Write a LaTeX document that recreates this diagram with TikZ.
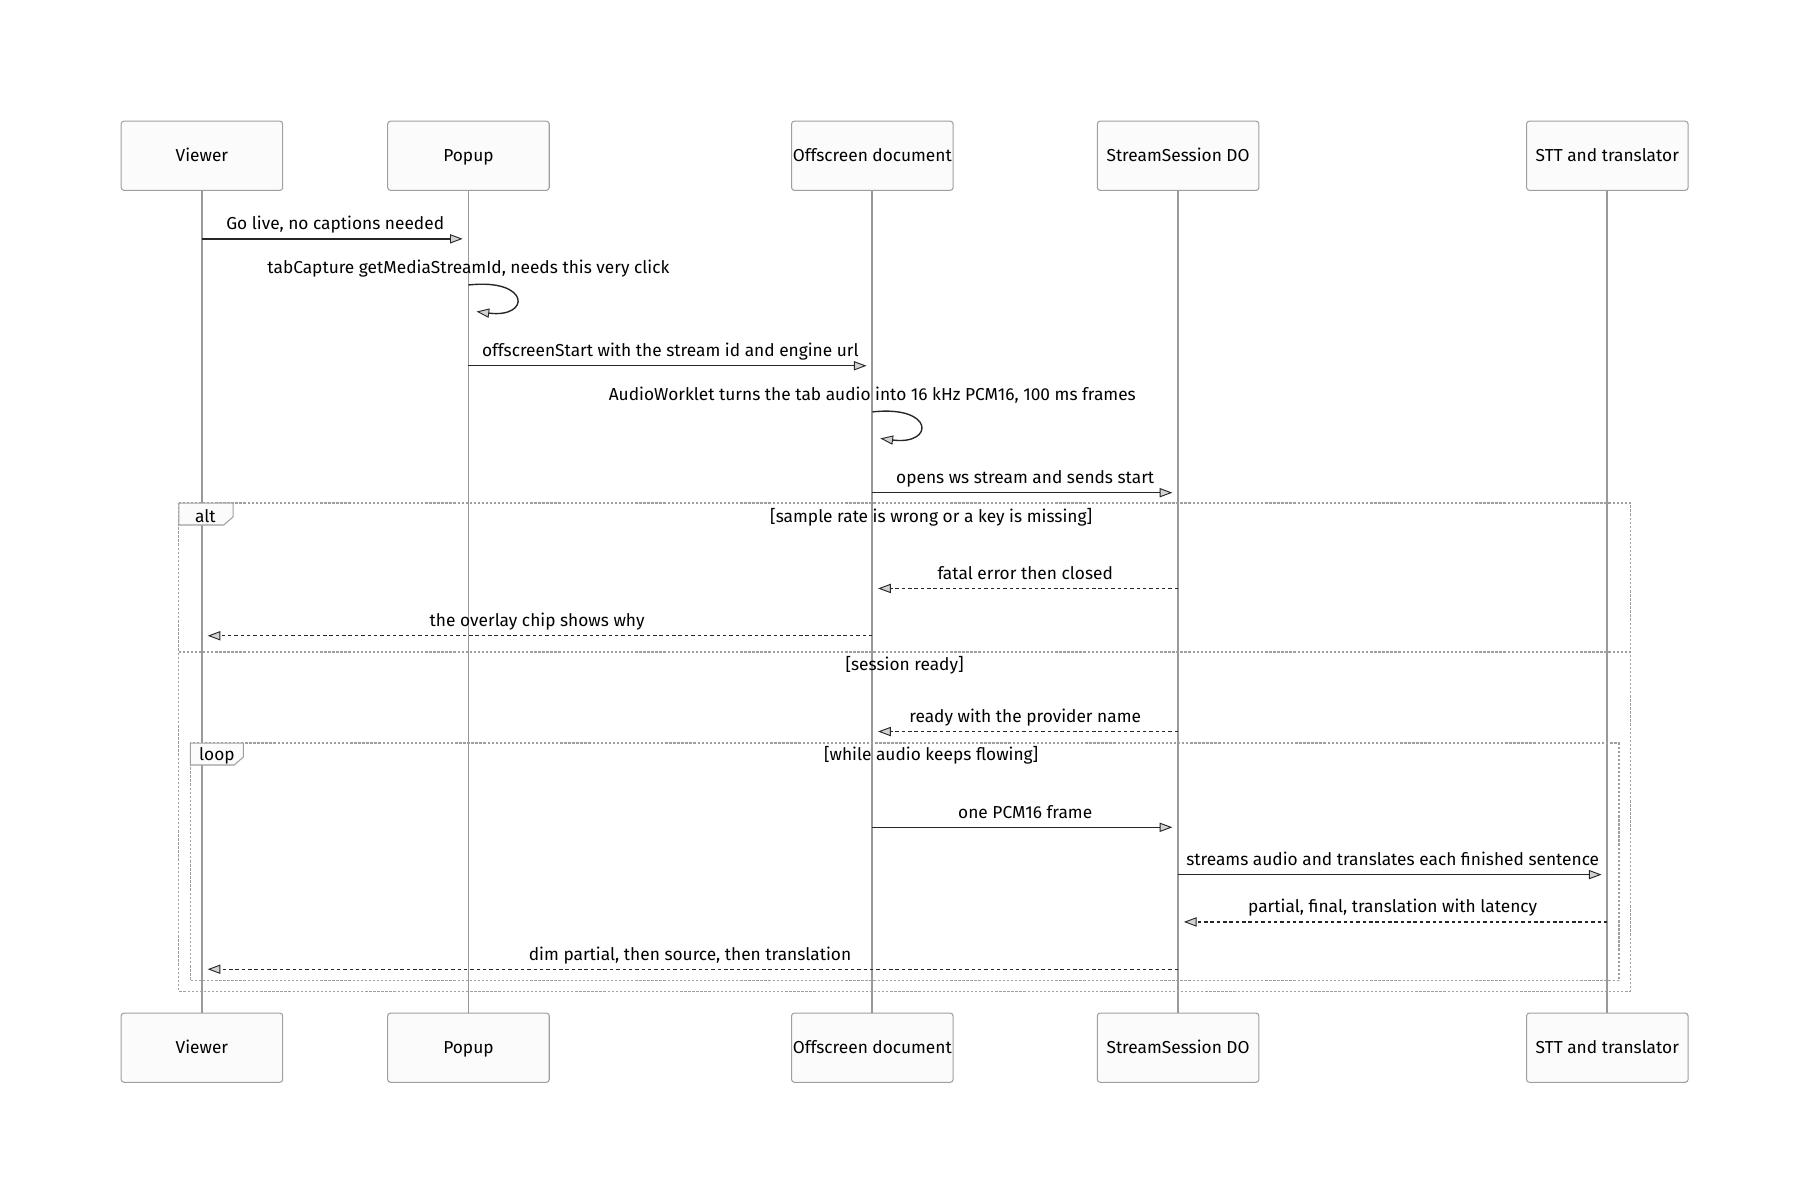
\documentclass[tikz,border=0pt]{standalone}
\usepackage{fontspec}
\setmainfont{Fira Sans}
\usetikzlibrary{arrows.meta}

\tikzset{
  actor/.style={draw=gray!75, fill=gray!3, rounded corners=2.5pt, line width=0.9pt,
    minimum width=140pt, minimum height=60pt, inner sep=0pt, text height=10.5pt, text depth=0pt,
    font=\fontsize{15}{17}\selectfont},
  life/.style={draw=gray!80, line width=1.6pt},
  msg/.style={draw=black!85, line width=1.2pt, shorten >=5pt,
    -{Triangle[length=11pt, width=8pt, fill=gray!35, line width=0.8pt]}},
  reply/.style={msg, dash pattern=on 3pt off 2.5pt},
  txt/.style={font=\fontsize{15}{17}\selectfont, inner sep=0pt, anchor=base},
  box/.style={draw=gray!75, line width=1.1pt, dash pattern=on 2pt off 1.5pt},
  tag/.style={draw=gray!75, fill=gray!3, line width=0.9pt}
}

\begin{document}
\begin{tikzpicture}[x=1pt, y=-1pt]
\useasboundingbox (0,0) rectangle (1560,1040);
%参与者
\node[actor] (viewerTop) at (175,135) {Viewer};
\node[actor] (popupTop) at (406,135) {Popup};
\node[actor] (offTop) at (756,135) {Offscreen document};
\node[actor] (sessTop) at (1021,135) {StreamSession DO};
\node[actor] (sttTop) at (1393,135) {STT and translator};
\node[actor] (viewerBot) at (175,908) {Viewer};
\node[actor] (popupBot) at (406,908) {Popup};
\node[actor] (offBot) at (756,908) {Offscreen document};
\node[actor] (sessBot) at (1021,908) {StreamSession DO};
\node[actor] (sttBot) at (1393,908) {STT and translator};
%生命线
\foreach \a in {viewer,popup,off,sess,stt}
  \draw[life] (\a Top.south) -- (\a Bot.north);
%行
\foreach \n/\y in {goLive/207,capture/247,start/317,worklet/357,openWs/427,
  fatal/510,overlay/551,ready/634,frame/717,stream/758,partial/799,dim/840}
  \coordinate (\n) at (0,\y);
%框
\draw[box] (155,436) rectangle (1413,859);
\draw[box] (155,565) -- (1413,565);
\draw[tag] (155,436) -- (202,436) -- (202,448) -- (194,455) -- (155,455) -- cycle;
\draw (178,447) node[font=\fontsize{15}{17}\selectfont] {alt};
\draw (807,448) node[font=\fontsize{15}{17}\selectfont] {[sample rate is wrong or a key is missing]};
\draw (784,577) node[font=\fontsize{15}{17}\selectfont] {[session ready]};
\draw[box] (165,644) rectangle (1403,850);
\draw[tag] (165,644) -- (211,644) -- (211,656) -- (203,663) -- (165,663) -- cycle;
\draw (188,655) node[font=\fontsize{15}{17}\selectfont] {loop};
\draw (807,655) node[font=\fontsize{15}{17}\selectfont] {[while audio keeps flowing]};
%消息
\draw[msg] (viewerTop |- goLive) -- node[txt, yshift=8pt] {Go live, no captions needed} (popupTop |- goLive);
\draw[msg, shorten >=0pt] (popupTop |- capture) .. controls (460,241) and (460,276) .. (413,270);
\draw (popupTop |- capture) node[txt, yshift=10pt] {tabCapture getMediaStreamId, needs this very click};
\draw[msg] (popupTop |- start) -- node[txt, yshift=8pt] {offscreenStart with the stream id and engine url} (offTop |- start);
\draw[msg, shorten >=0pt] (offTop |- worklet) .. controls (810,351) and (810,386) .. (763,380);
\draw (offTop |- worklet) node[txt, yshift=10pt] {AudioWorklet turns the tab audio into 16 kHz PCM16, 100 ms frames};
\draw[msg] (offTop |- openWs) -- node[txt, yshift=8pt] {opens ws stream and sends start} (sessTop |- openWs);
\draw[reply] (sessTop |- fatal) -- node[txt, yshift=8pt] {fatal error then closed} (offTop |- fatal);
\draw[reply] (offTop |- overlay) -- node[txt, yshift=8pt] {the overlay chip shows why} (viewerTop |- overlay);
\draw[reply] (sessTop |- ready) -- node[txt, yshift=8pt] {ready with the provider name} (offTop |- ready);
\draw[msg] (offTop |- frame) -- node[txt, yshift=8pt] {one PCM16 frame} (sessTop |- frame);
\draw[msg] (sessTop |- stream) -- node[txt, yshift=8pt] {streams audio and translates each finished sentence} (sttTop |- stream);
\draw[reply] (sttTop |- partial) -- node[txt, yshift=8pt] {partial, final, translation with latency} (sessTop |- partial);
\draw[reply] (sessTop |- dim) -- node[txt, yshift=8pt] {dim partial, then source, then translation} (viewerTop |- dim);
\end{tikzpicture}
\end{document}
